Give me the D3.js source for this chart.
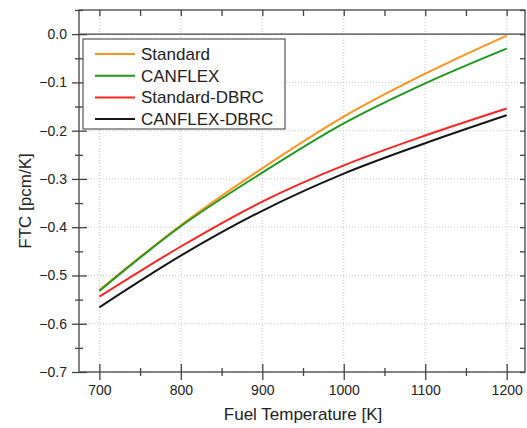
<!DOCTYPE html>
<html>
<head>
<meta charset="utf-8">
<script src="https://cdn.jsdelivr.net/npm/d3@7"></script>
<style>
  body { margin: 0; background: #fff; }
  text { font-family: "Liberation Sans", Arial, sans-serif; fill: #222; }
</style>
</head>
<body>
<div id="chart"></div>
<script>
// values
var temps = [700, 800, 900, 1000, 1100, 1200];
var standard = [-0.530, -0.396, -0.278, -0.171, -0.082, -0.003];
var canflex = [-0.532, -0.398, -0.287, -0.185, -0.102, -0.030];
var standardDbrc = [-0.544, -0.440, -0.347, -0.272, -0.210, -0.154];
var canflexDbrc = [-0.566, -0.459, -0.366, -0.289, -0.226, -0.168];
var seriesNames = ["Standard", "CANFLEX", "Standard-DBRC", "CANFLEX-DBRC"];
var xTicks = [700, 800, 900, 1000, 1100, 1200];
var xMinor = [750, 850, 950, 1050, 1150];
var yTicks = [0, -0.1, -0.2, -0.3, -0.4, -0.5, -0.6, -0.7];
var yMinor = [0.05, -0.05, -0.15, -0.25, -0.35, -0.45, -0.55, -0.65];

var colors = ["#ff9420", "#1f9a1f", "#ff2424", "#161616"];
var allSeries = [standard, canflex, standardDbrc, canflexDbrc];

var W = 527, H = 428;
var margin = { top: 10, right: 2, bottom: 56, left: 79 };
var w = W - margin.left - margin.right;
var h = H - margin.top - margin.bottom;

var svg = d3.select("#chart").append("svg").attr("width", W).attr("height", H);
var g = svg.append("g").attr("transform", "translate(" + margin.left + "," + margin.top + ")");

var x = d3.scaleLinear().domain([675, 1222.5]).range([0, w]);
var y = d3.scaleLinear().domain([-0.7, 0.05]).range([h, 0]);

var axisColor = "#444";

// grid
g.selectAll(".gx").data(xTicks).enter().append("line")
    .attr("x1", function (d) { return x(d); }).attr("x2", function (d) { return x(d); })
    .attr("y1", 0).attr("y2", h)
    .attr("stroke", "#c8c8c8").attr("stroke-width", 1).attr("stroke-dasharray", "1,2");
g.selectAll(".gy").data(yTicks).enter().append("line")
    .attr("x1", 0).attr("x2", w)
    .attr("y1", function (d) { return y(d); }).attr("y2", function (d) { return y(d); })
    .attr("stroke", "#c8c8c8").attr("stroke-width", 1).attr("stroke-dasharray", "1,2");

// zero line
g.append("line").attr("x1", 0).attr("x2", w).attr("y1", y(0)).attr("y2", y(0))
    .attr("stroke", axisColor).attr("stroke-width", 1.3);

function styleAxis(sel) {
    sel.select(".domain").remove();
    sel.selectAll(".tick line").attr("stroke", axisColor).attr("stroke-width", 1.3);
    sel.selectAll("text").style("font-size", "14px").attr("fill", "#222");
}

// left axis (ticks cross the axis line)
g.append("g").call(d3.axisLeft(y).tickValues(yTicks).tickSize(7).tickPadding(5)
    .tickFormat(d3.format(".1f"))).call(styleAxis);
g.append("g").call(d3.axisRight(y).tickValues(yTicks).tickSize(8).tickFormat("")).call(styleAxis);
g.append("g").call(d3.axisLeft(y).tickValues(yMinor).tickSize(4).tickFormat("")).call(styleAxis);
g.append("g").call(d3.axisRight(y).tickValues(yMinor).tickSize(4).tickFormat("")).call(styleAxis);

// bottom axis
g.append("g").attr("transform", "translate(0," + h + ")")
    .call(d3.axisBottom(x).tickValues(xTicks).tickSize(8).tickPadding(5).tickFormat(d3.format("d"))).call(styleAxis);
g.append("g").attr("transform", "translate(0," + h + ")")
    .call(d3.axisTop(x).tickValues(xTicks).tickSize(8).tickFormat("")).call(styleAxis);
g.append("g").attr("transform", "translate(0," + h + ")")
    .call(d3.axisBottom(x).tickValues(xMinor).tickSize(4).tickFormat("")).call(styleAxis);
g.append("g").attr("transform", "translate(0," + h + ")")
    .call(d3.axisTop(x).tickValues(xMinor).tickSize(4).tickFormat("")).call(styleAxis);

// top and right axes, ticks inward
g.append("g").call(d3.axisBottom(x).tickValues(xTicks.concat(xMinor)).tickSize(6).tickFormat("")).call(styleAxis);
g.append("g").attr("transform", "translate(" + w + ",0)")
    .call(d3.axisLeft(y).tickValues(yTicks.concat(yMinor)).tickSize(5).tickFormat("")).call(styleAxis);

// frame
g.append("rect").attr("x", 0).attr("y", 0).attr("width", w).attr("height", h)
    .attr("fill", "none").attr("stroke", axisColor).attr("stroke-width", 1.3);

// curves
var line = d3.line()
    .x(function (d, i) { return x(temps[i]); })
    .y(function (d) { return y(d); })
    .curve(d3.curveMonotoneX);

g.selectAll(".series").data(allSeries).enter().append("path")
    .attr("d", line)
    .attr("fill", "none")
    .attr("stroke", function (d, i) { return colors[i]; })
    .attr("stroke-width", 2);

// legend
var lg = svg.append("g").attr("transform", "translate(83,39)");
lg.append("rect").attr("width", 202).attr("height", 90)
    .attr("fill", "#fff").attr("stroke", "#555").attr("stroke-width", 1.2);
seriesNames.forEach(function (name, i) {
    var yy = 15 + i * 21.7;
    lg.append("line").attr("x1", 12).attr("x2", 52).attr("y1", yy).attr("y2", yy)
        .attr("stroke", colors[i]).attr("stroke-width", 2);
    lg.append("text").attr("x", 58).attr("y", yy).attr("dy", "0.35em")
        .style("font-size", "17px").text(name);
});

// axis titles
svg.append("text").attr("x", margin.left + x(950)).attr("y", 420)
    .attr("text-anchor", "middle").style("font-size", "17px").text("Fuel Temperature [K]");
svg.append("text").attr("transform", "translate(31,201)rotate(-90)")
    .attr("text-anchor", "middle").style("font-size", "17px").text("FTC [pcm/K]");
</script>
</body>
</html>
